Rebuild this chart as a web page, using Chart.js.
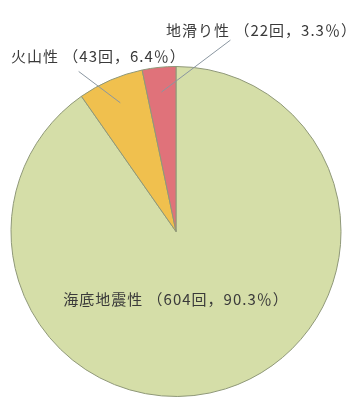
<!DOCTYPE html>
<html>
<head>
<meta charset="utf-8">
<script src="https://cdn.jsdelivr.net/npm/chart.js@4/dist/chart.umd.min.js"></script>
<style>
  html, body { margin: 0; padding: 0; background: #fff; }
  #wrap { width: 350px; height: 397px; position: relative; }
</style>
</head>
<body>
<div id="wrap"><canvas id="myChart"></canvas></div>
<script>
// data
const labels = ['海底地震性', '火山性', '地滑り性'];
const counts = [604, 43, 22];
const percents = [90.3, 6.4, 3.3];
const colors = ['#d5dea8', '#f0c04e', '#e0727a'];

const FONT = '"Noto Sans CJK JP", "Noto Sans", sans-serif';

// draws the slice labels, with leader lines for the two thin slices
const sliceLabels = {
  id: 'sliceLabels',
  afterDatasetsDraw(chart) {
    const ctx = chart.ctx;
    const arcs = chart.getDatasetMeta(0).data;
    ctx.save();
    ctx.fillStyle = '#3a3a3a';
    ctx.textBaseline = 'middle';
    ctx.letterSpacing = '1px';
    ctx.font = '15px ' + FONT;
    arcs.forEach((arc, i) => {
      const { x, y, startAngle, endAngle, outerRadius } = arc.getProps(['x', 'y', 'startAngle', 'endAngle', 'outerRadius'], true);
      const mid = (startAngle + endAngle) / 2;
      const text = labels[i] + ' （' + counts[i] + '回，' + percents[i] + '％）';
      if (i === 0) {
        ctx.textAlign = 'center';
        ctx.fillText(text, x, y + outerRadius * 0.41);
        return;
      }
      const px = x + Math.cos(mid) * outerRadius * 0.85;
      const py = y + Math.sin(mid) * outerRadius * 0.85;
      let lx, ly, tx, ty;
      if (i === 1) {
        lx = x - outerRadius * 0.59; ly = y - outerRadius * 0.97;
        tx = x - outerRadius * 1.0; ty = y - outerRadius * 1.06;
      } else {
        lx = x + outerRadius * 0.33; ly = y - outerRadius * 1.16;
        tx = x - outerRadius * 0.06; ty = y - outerRadius * 1.22;
      }
      ctx.textAlign = 'left';
      ctx.strokeStyle = '#8a96a0';
      ctx.lineWidth = 1;
      ctx.beginPath();
      ctx.moveTo(lx, ly);
      ctx.lineTo(px, py);
      ctx.stroke();
      ctx.fillText(text, tx, ty);
    });
    ctx.restore();
  }
};

new Chart(document.getElementById('myChart'), {
  type: 'pie',
  data: {
    labels: labels,
    datasets: [{
      data: counts,
      backgroundColor: colors,
      borderColor: '#8f9878',
      borderWidth: 1
    }]
  },
  options: {
    responsive: true,
    maintainAspectRatio: false,
    animation: false,
    layout: { padding: { left: 10, right: 8, top: 66, bottom: 0 } },
    plugins: {
      legend: { display: false },
      tooltip: { enabled: false }
    }
  },
  plugins: [sliceLabels]
});
</script>
</body>
</html>
